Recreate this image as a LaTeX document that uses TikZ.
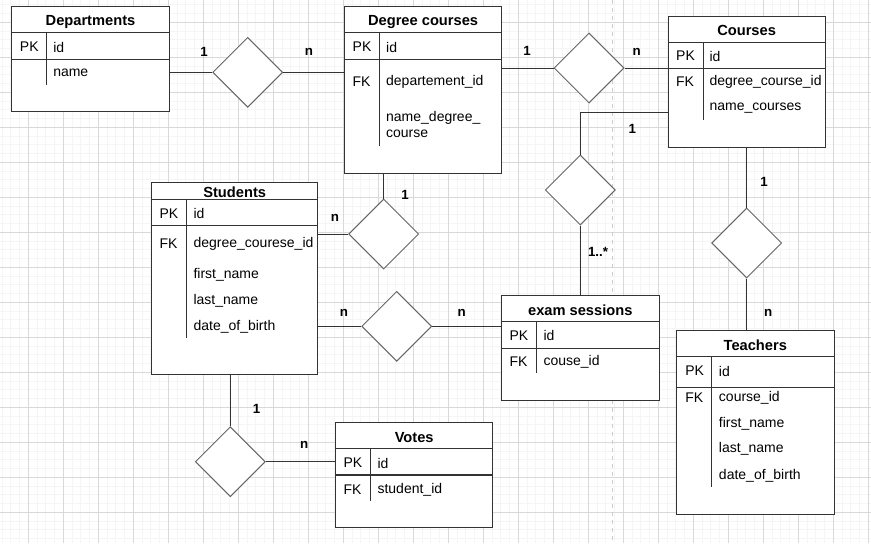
\documentclass[tikz,border=0pt]{standalone}
\usepackage{fontspec}
\setmainfont{Liberation Sans}
\usepackage{tikz}
\usetikzlibrary{shapes.geometric}
\usetikzlibrary{fit}

\begin{document}
\begin{tikzpicture}[x=0.75pt,y=-0.75pt,
            tbl/.style={draw=black!80,line width=0.75pt,fill=white,inner sep=0pt},
            rel/.style={diamond,draw=black!60,line width=0.75pt,fill=white,inner sep=0pt,minimum width=52.5pt,minimum height=52.5pt},
            ttl/.style={font=\fontsize{11}{13}\selectfont\bfseries,inner sep=0pt,yshift=-1.1pt},
            fld/.style={anchor=west,font=\fontsize{10.5}{12}\selectfont,inner sep=0pt,yshift=-0.8pt},
            card/.style={font=\fontsize{10}{12}\selectfont\bfseries,inner sep=0pt},
            conn/.style={draw=black!80,line width=0.75pt},
            sep/.style={draw=black!80,line width=0.75pt},
            keysep/.style={draw=black!80,line width=1.1pt},
            gridminor/.style={draw=black!4,line width=0.75pt},
            gridmajor/.style={draw=black!15,line width=0.75pt}]
            \fill[white] (0,0) rectangle (871,543);
            \useasboundingbox (0,0) rectangle (871,543);
            \foreach \i in {0,...,99} \draw[gridminor] ({2.05+8.75*\i},0) -- ({2.05+8.75*\i},543);
            \foreach \i in {0,...,61} \draw[gridminor] (0,{4.8+8.75*\i}) -- (871,{4.8+8.75*\i});
            \foreach \i in {0,...,24} \draw[gridmajor] ({28.3+35*\i},0) -- ({28.3+35*\i},543);
            \foreach \i in {0,...,14} \draw[gridmajor] (0,{22.3+35*\i}) -- (871,{22.3+35*\i});
            \draw[black!20,line width=1.1pt,dash pattern=on 3pt off 3pt] (612.7,0) -- (612.7,543);

            \node[tbl,fit={(11.7,6.7) (169.3,111.3)}] (dept) {};
            \draw[sep] (11.7,32.7) -- (169.3,32.7);
            \draw[keysep] (11.7,59.3) -- (169.3,59.3);
            \draw[sep] (46.7,32.7) -- (46.7,85);
            \node[ttl] (dept-t) at (90.5,21) {Departments};
            \node[fld] (dept-pk) at (19.7,46) {PK};
            \node[fld] (dept-id) at (53,46) {id};
            \node[fld] (dept-name) at (53,72) {name};

            \node[tbl,fit={(344.5,6.7) (501.7,173)}] (deg) {};
            \draw[sep] (344.5,32.7) -- (501.7,32.7);
            \draw[keysep] (344.5,59.3) -- (501.7,59.3);
            \draw[sep] (379.7,32.7) -- (379.7,146);
            \node[ttl] (deg-t) at (423.1,21) {Degree courses};
            \node[fld] (deg-pk) at (352.4,46) {PK};
            \node[fld] (deg-id) at (385.9,46) {id};
            \node[fld] (deg-fk) at (352.4,81) {FK};
            \node[fld] (deg-dep) at (385.9,81) {departement\_id};
            \node[fld] (deg-name) at (385.9,116.5) {name\_degree\_};
            \node[fld] (deg-name2) at (385.9,133) {course};

            \node[tbl,fit={(668,16) (825.2,147)}] (crs) {};
            \draw[sep] (668,42) -- (825.2,42);
            \draw[keysep] (668,68.3) -- (825.2,68.3);
            \draw[sep] (703,42) -- (703,120);
            \node[ttl] (crs-t) at (746.6,29.3) {Courses};
            \node[fld] (crs-pk) at (675.9,55) {PK};
            \node[fld] (crs-id) at (709.3,55) {id};
            \node[fld] (crs-fk) at (675.9,81) {FK};
            \node[fld] (crs-deg) at (709.3,81) {degree\_course\_id};
            \node[fld] (crs-name) at (709.3,107.3) {name\_courses};

            \node[tbl,fit={(151.7,182.3) (317.7,374)}] (stu) {};
            \draw[sep] (151.7,199.3) -- (317.7,199.3);
            \draw[keysep] (151.7,225.3) -- (317.7,225.3);
            \draw[sep] (186.7,199.3) -- (186.7,338.3);
            \node[ttl] (stu-t) at (234.7,191) {Students};
            \node[fld] (stu-pk) at (159.3,212.3) {PK};
            \node[fld] (stu-id) at (193.3,212.3) {id};
            \node[fld] (stu-fk) at (159.3,242.7) {FK};
            \node[fld] (stu-deg) at (193.3,242.7) {degree\_courese\_id};
            \node[fld] (stu-first) at (193.3,273.3) {first\_name};
            \node[fld] (stu-last) at (193.3,300) {last\_name};
            \node[fld] (stu-birth) at (193.3,326) {date\_of\_birth};

            \node[tbl,fit={(501.7,295.7) (659,400)}] (exam) {};
            \draw[sep] (501.7,321.7) -- (659,321.7);
            \draw[keysep] (501.7,348.3) -- (659,348.3);
            \draw[sep] (536.7,321.7) -- (536.7,373.3);
            \node[ttl] (exam-t) at (580.3,309) {exam sessions};
            \node[fld] (exam-pk) at (509.3,334.3) {PK};
            \node[fld] (exam-id) at (543.3,334.3) {id};
            \node[fld] (exam-fk) at (509.3,361) {FK};
            \node[fld] (exam-crs) at (543.3,361) {couse\_id};

            \node[tbl,fit={(676.7,330.7) (834,514)}] (tch) {};
            \draw[sep] (676.7,356.3) -- (834,356.3);
            \draw[keysep] (676.7,387.3) -- (834,387.3);
            \draw[sep] (711.7,356.3) -- (711.7,487.3);
            \node[ttl] (tch-t) at (755.3,343.7) {Teachers};
            \node[fld] (tch-pk) at (685,370) {PK};
            \node[fld] (tch-id) at (718.7,370) {id};
            \node[fld] (tch-fk) at (685,396.7) {FK};
            \node[fld] (tch-crs) at (718.7,396.7) {course\_id};
            \node[fld] (tch-first) at (718.7,422.3) {first\_name};
            \node[fld] (tch-last) at (718.7,447.7) {last\_name};
            \node[fld] (tch-birth) at (718.7,475) {date\_of\_birth};

            \node[tbl,fit={(335.7,422.3) (492.7,527.3)}] (vot) {};
            \draw[sep] (335.7,448.3) -- (492.7,448.3);
            \draw[keysep] (335.7,475) -- (492.7,475);
            \draw[sep] (370.3,448.3) -- (370.3,500.7);
            \node[ttl] (vot-t) at (414.2,436) {Votes};
            \node[fld] (vot-pk) at (343.3,462) {PK};
            \node[fld] (vot-id) at (377.3,462) {id};
            \node[fld] (vot-fk) at (343.3,488.3) {FK};
            \node[fld] (vot-stu) at (377.3,488.3) {student\_id};

            \node[rel] (r1) at (247.7,72.3) {};
            \node[rel] (r2) at (589,68) {};
            \node[rel] (r3) at (580.3,190) {};
            \node[rel] (r4) at (383.7,234) {};
            \node[rel] (r5) at (396.7,326.3) {};
            \node[rel] (r6) at (230.3,461.7) {};
            \node[rel] (r7) at (746.7,243) {};

            \draw[conn] (dept.east |- r1.west) -- (r1.west);
            \draw[conn] (r1.east) -- (r1.east -| deg.west);
            \draw[conn] (deg.east |- r2.west) -- (r2.west);
            \draw[conn] (r2.east) -- (r2.east -| crs.west);
            \draw[conn] (crs.west |- 0,112) -| (r3.north);
            \draw[conn] (r3.south) -- (r3.south |- exam.north);
            \draw[conn] (r4.north |- deg.south) -- (r4.north);
            \draw[conn] (stu.east |- r4.west) -- (r4.west);
            \draw[conn] (stu.east |- r5.west) -- (r5.west);
            \draw[conn] (r5.east) -- (r5.east -| exam.west);
            \draw[conn] (r6.north |- stu.south) -- (r6.north);
            \draw[conn] (r6.east) -- (r6.east -| vot.west);
            \draw[conn] (r7.north |- crs.south) -- (r7.north);
            \draw[conn] (r7.south) -- (r7.south |- tch.north);

            \node[card] (r1-a) at (204,51.5) {1};
            \node[card] (r1-b) at (309,51.7) {n};
            \node[card] (r2-a) at (527,51) {1};
            \node[card] (r2-b) at (636.7,51.7) {n};
            \node[card] (r3-a) at (632.4,129.3) {1};
            \node[card] (r3-b) at (598,251.7) {1..*};
            \node[card] (r4-a) at (405,195) {1};
            \node[card] (r4-b) at (335,217.7) {n};
            \node[card] (r5-a) at (344,313.3) {n};
            \node[card] (r5-b) at (461.7,313.3) {n};
            \node[card] (r6-a) at (256.7,409.3) {1};
            \node[card] (r6-b) at (304.3,445) {n};
            \node[card] (r7-a) at (764,182.3) {1};
            \node[card] (r7-b) at (768.3,313.3) {n};
        \end{tikzpicture}
\end{document}
